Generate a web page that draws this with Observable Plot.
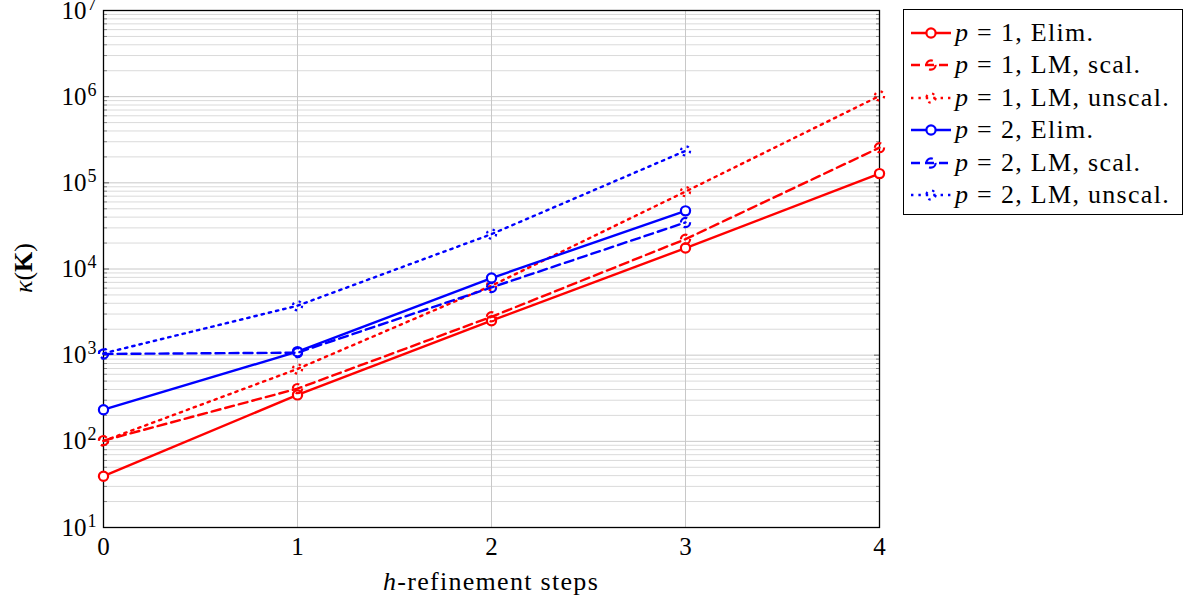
<!DOCTYPE html>
<html><head><meta charset="utf-8">
<script src="https://cdn.jsdelivr.net/npm/d3@7"></script>
<script src="https://cdn.jsdelivr.net/npm/@observablehq/plot@0.6"></script>
<style>
body{margin:0;background:#fff;}
#wrap{position:relative;width:1196px;height:603px;font-family:"Liberation Serif","DejaVu Serif",serif;}
#legend{position:absolute;left:903px;top:9px;width:280px;height:206px;border:1.3px solid #000;box-sizing:border-box;background:#fff;}
.row{position:absolute;left:0;height:32px;display:flex;align-items:center;font-size:26px;letter-spacing:1.3px;white-space:nowrap;}
.row svg{margin-left:7px;margin-right:4px;flex:none;}
</style></head><body><div id="wrap"></div>
<script>
// ---- data ----
const steps = [0, 1, 2, 3, 4];
const p1Elim     = [39.4, 346, 2512, 17500, 128000];
const p1LMscal   = [102, 409, 2790, 22200, 256000];
const p1LMunscal = [101, 692, 6400, 79200, 1020000];
const p2Elim     = [233, 1099, 7850, 47300];
const p2LMscal   = [1033, 1069, 6110, 34700];
const p2LMunscal = [1050, 3750, 25400, 235000];
const seriesP    = ["1", "1", "1", "2", "2", "2"];
const seriesRest = ["Elim.", "LM, scal.", "LM, unscal.", "Elim.", "LM, scal.", "LM, unscal."];
const seriesColor = ["#ff0000", "#ff0000", "#ff0000", "#0000ff", "#0000ff", "#0000ff"];
const seriesDash  = ["none", "9,5", "2.4,5", "none", "9,5", "2.4,5"];
const seriesFill  = ["white", "none", "none", "white", "none", "none"];
const yTicks = [1e1, 1e2, 1e3, 1e4, 1e5, 1e6, 1e7];
const xTicks = [0, 1, 2, 3, 4];
const xLabel = "refinement steps";
const yLabel = "K";

const seriesValues = [p1Elim, p1LMscal, p1LMunscal, p2Elim, p2LMscal, p2LMunscal];
const rows = seriesValues.flatMap((vals, i) => vals.map((v, j) => ({step: steps[j], kappa: v, series: i})));
const minorTicks = yTicks.slice(0, -1).flatMap(d => [2,3,4,5,6,7,8,9].map(k => d * k));

const seriesMarks = seriesValues.flatMap((vals, i) => {
  const data = rows.filter(r => r.series === i);
  return [
    Plot.line(data, {x: "step", y: "kappa", stroke: seriesColor[i], strokeWidth: 2.4, strokeDasharray: seriesDash[i]}),
    Plot.dot(data, {x: "step", y: "kappa", r: 4.6, stroke: seriesColor[i], fill: seriesFill[i], strokeWidth: 2.2, strokeDasharray: seriesDash[i]})
  ];
});

const font = '"Liberation Serif","DejaVu Serif",serif';
const chart = Plot.plot({
  width: 1196, height: 603,
  marginLeft: 103, marginRight: 317, marginTop: 10, marginBottom: 76,
  style: {fontFamily: font, fontSize: "26px", background: "white", color: "black", overflow: "visible"},
  x: {domain: [0, 4]},
  y: {type: "log", domain: [10, 1e7]},
  marks: [
    Plot.gridY(minorTicks, {stroke: "#dadada", strokeOpacity: 1, strokeWidth: 1}),
    Plot.gridY(yTicks, {stroke: "#c8c8c8", strokeOpacity: 1, strokeWidth: 1}),
    Plot.gridX(xTicks, {stroke: "#c8c8c8", strokeOpacity: 1, strokeWidth: 1}),
    Plot.axisY(minorTicks, {anchor: "left", tickSize: -4, tickFormat: () => "", label: null, stroke: "#888"}),
    Plot.axisY(minorTicks, {anchor: "right", tickSize: -4, tickFormat: () => "", label: null, stroke: "#888"}),
    Plot.axisY(yTicks, {anchor: "left", tickSize: -6, tickFormat: () => "", label: null, stroke: "#666"}),
    Plot.axisY(yTicks, {anchor: "right", tickSize: -6, tickFormat: () => "", label: null, stroke: "#666"}),
    Plot.axisY(yTicks, {anchor: "left", tickSize: 0, tickPadding: 7, tickFormat: d => "10^" + Math.round(Math.log10(d)), label: null}),
    Plot.axisX(xTicks, {anchor: "bottom", tickSize: 0, tickPadding: 10, tickFormat: d => String(d), label: null}),
    Plot.frame({stroke: "black", strokeWidth: 1.3}),
    ...seriesMarks
  ]
});

document.getElementById("wrap").appendChild(chart);
const svg = d3.select(chart);

svg.selectAll('g[aria-label="y-axis tick label"], g[aria-label="x-axis tick label"]')
  .attr("font-size", 25).attr("font-family", font);

// superscripts on y tick labels
svg.selectAll('g[aria-label="y-axis tick label"] text').each(function() {
  const t = d3.select(this);
  const s = t.text();
  if (!s.includes("^")) return;
  const [base, exp] = s.split("^");
  t.attr("font-size", 25).text(base);
  t.append("tspan").attr("dy", "-9").attr("dx", "1").attr("font-size", "18px").text(exp);
});
svg.selectAll('g[aria-label="x-axis tick label"] text').attr("font-size", 25);

// axis titles
const xt = svg.append("text").attr("x", 491).attr("y", 590).attr("text-anchor", "middle")
  .attr("font-family", font).attr("font-size", "26px").attr("letter-spacing", "1.3px").attr("fill", "black");
xt.append("tspan").attr("font-style", "italic").text("h");
xt.append("tspan").text("-" + xLabel);

const yt = svg.append("text").attr("transform", "translate(32,268) rotate(-90)").attr("text-anchor", "middle")
  .attr("font-family", font).attr("font-size", "26px").attr("fill", "black");
yt.append("tspan").attr("font-style", "italic").text("κ");
yt.append("tspan").text("(");
yt.append("tspan").attr("font-weight", "bold").text(yLabel);
yt.append("tspan").text(")");

// legend
const legend = document.createElement("div");
legend.id = "legend";
document.getElementById("wrap").appendChild(legend);
seriesP.forEach((p, i) => {
  const row = document.createElement("div");
  row.className = "row";
  row.style.top = (7 + i * 32.4) + "px";
  row.innerHTML =
    `<svg width="40" height="32"><line x1="0" x2="40" y1="16" y2="16" stroke="${seriesColor[i]}" stroke-width="2.4" stroke-dasharray="${seriesDash[i]}"/>` +
    `<circle cx="20" cy="16" r="4.6" stroke="${seriesColor[i]}" stroke-width="2.2" fill="${seriesFill[i]}" stroke-dasharray="${seriesDash[i]}"/></svg>` +
    `<span><i>p</i> = ${p}, ${seriesRest[i]}</span>`;
  legend.appendChild(row);
});
</script>
</body></html>
